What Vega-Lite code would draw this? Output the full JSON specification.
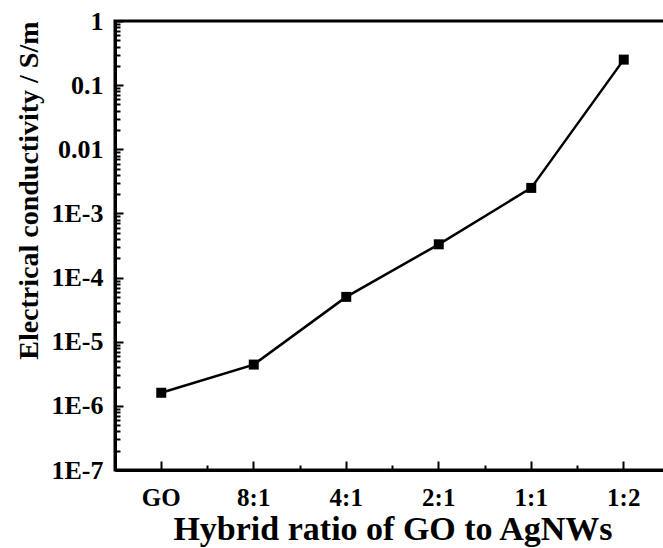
{
  "$schema": "https://vega.github.io/schema/vega-lite/v6.json",
  "width": 555,
  "height": 449,
  "autosize": {"type": "none"},
  "padding": {"left": 115, "top": 21, "right": 0, "bottom": 78},
  "background": "white",
  "config": {
    "font": "Liberation Serif",
    "view": {"stroke": "black", "strokeWidth": 3},
    "axis": {
      "domainColor": "black",
      "domainWidth": 3,
      "tickColor": "black",
      "tickWidth": 2,
      "labelColor": "black",
      "labelFont": "Liberation Serif",
      "labelFontWeight": "bold",
      "titleColor": "black",
      "titleFont": "Liberation Serif",
      "titleFontWeight": "bold",
      "grid": false
    }
  },
  "data": {
    "values": [
      {"ratio": "GO", "conductivity": 1.6e-6},
      {"ratio": "8:1", "conductivity": 4.4e-6},
      {"ratio": "4:1", "conductivity": 5.0e-5},
      {"ratio": "2:1", "conductivity": 3.3e-4},
      {"ratio": "1:1", "conductivity": 2.5e-3},
      {"ratio": "1:2", "conductivity": 0.25}
    ]
  },
  "layer": [
    {
      "mark": {"type": "line", "color": "black", "strokeWidth": 2.5},
      "encoding": {
        "x": {
          "field": "ratio", "type": "nominal", "sort": null, "bandPosition": 0.5,
          "scale": {"type": "band", "paddingInner": 0, "paddingOuter": 0},
          "axis": {
            "orient": "bottom", "bandPosition": 0.5, "labelAngle": 0,
            "tickSize": -9, "labelPadding": 24, "labelFontSize": 25,
            "title": "Hybrid ratio of GO to AgNWs", "titleFontSize": 34, "titlePadding": 2
          }
        },
        "y": {
          "field": "conductivity", "type": "quantitative",
          "scale": {"type": "log", "domain": [1e-7, 1]},
          "axis": {
            "orient": "left",
            "values": [1e-7, 1e-6, 1e-5, 1e-4, 1e-3, 0.01, 0.1, 1],
            "labelExpr": "datum.value >= 0.01 ? datum.value + '' : '1E' + round(log(datum.value) / LN10)",
            "tickSize": -8, "labelPadding": 20, "labelFontSize": 26,
            "title": "Electrical conductivity / S/m", "titleFontSize": 28, "titlePadding": 8,
            "titleAnchor": "end"
          }
        }
      }
    },
    {
      "mark": {"type": "square", "color": "black", "size": 100, "opacity": 1, "filled": true},
      "encoding": {
        "x": {
          "field": "ratio", "type": "nominal", "sort": null, "bandPosition": 0.5,
          "axis": {
            "orient": "bottom", "bandPosition": 0, "labels": false, "domain": false,
            "tickSize": -5, "title": null
          }
        },
        "y": {
          "field": "conductivity", "type": "quantitative",
          "axis": {
            "orient": "left", "labels": false, "domain": false, "tickSize": -5, "title": null,
            "values": [2e-7, 3e-7, 4e-7, 5e-7, 6e-7, 7e-7, 8e-7, 9e-7,
                       2e-6, 3e-6, 4e-6, 5e-6, 6e-6, 7e-6, 8e-6, 9e-6,
                       2e-5, 3e-5, 4e-5, 5e-5, 6e-5, 7e-5, 8e-5, 9e-5,
                       2e-4, 3e-4, 4e-4, 5e-4, 6e-4, 7e-4, 8e-4, 9e-4,
                       2e-3, 3e-3, 4e-3, 5e-3, 6e-3, 7e-3, 8e-3, 9e-3,
                       0.02, 0.03, 0.04, 0.05, 0.06, 0.07, 0.08, 0.09,
                       0.2, 0.3, 0.4, 0.5, 0.6, 0.7, 0.8, 0.9]
          }
        }
      }
    }
  ],
  "resolve": {"axis": {"x": "independent", "y": "independent"}}
}
